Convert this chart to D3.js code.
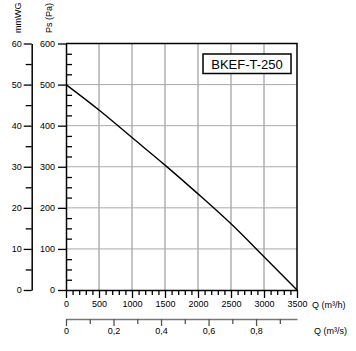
<!DOCTYPE html>
<html lang="en">
<head>
<meta charset="UTF-8">
<title>BKEF-T-250</title>
<script src="https://d3js.org/d3.v7.min.js"></script>
<style>
  body { margin: 0; background: #fff; }
  svg text { font-family: "Liberation Sans", Arial, sans-serif; }
  .tick text { font-size: 9px; fill: #000; }
</style>
</head>
<body>
<div id="chart"></div>
<script>
  // fan curve
  var flowM3h = [0, 500, 1000, 1500, 2000, 2500, 3000, 3500];
  var pressurePa = [500, 438, 371, 304, 234, 161, 81, 0];
  var psTicks = [0, 100, 200, 300, 400, 500, 600];
  var mmTicks = [0, 10, 20, 30, 40, 50, 60];
  var qhTicks = [0, 500, 1000, 1500, 2000, 2500, 3000, 3500];
  var qsTicks = [0, 0.2, 0.4, 0.6, 0.8];
  var qsLabels = ["0", "0,2", "0,4", "0,6", "0,8"];
  var modelName = "BKEF-T-250";

  var width = 356, height = 351;
  var pLeft = 66, pRight = 297, pTop = 43.5, pBottom = 290;

  var svg = d3.select("#chart").append("svg")
    .attr("width", width)
    .attr("height", height);

  var x = d3.scaleLinear().domain([0, 3500]).range([pLeft, pRight]);
  var y = d3.scaleLinear().domain([0, 600]).range([pBottom, pTop]);
  var ymm = d3.scaleLinear().domain([0, 60]).range([pBottom, pTop]);
  var xs = d3.scaleLinear().domain([0, 3500 / 3600]).range([pLeft, pRight]);

  // grid
  var grid = svg.append("g").attr("stroke-width", 1);
  grid.selectAll(".gv").data(qhTicks.slice(1, -1)).join("line")
    .attr("stroke", "#888")
    .attr("x1", d => x(d)).attr("x2", d => x(d))
    .attr("y1", pTop).attr("y2", pBottom);
  grid.selectAll(".gh").data(psTicks.slice(1, -1)).join("line")
    .attr("stroke", "#aaa")
    .attr("x1", pLeft).attr("x2", pRight)
    .attr("y1", d => y(d)).attr("y2", d => y(d));

  // frame top / right
  svg.append("path")
    .attr("d", `M${pLeft},${pTop}H${pRight}V${pBottom}`)
    .attr("fill", "none").attr("stroke", "#000").attr("stroke-width", 1.5);

  function styleAxis(g) {
    g.selectAll(".domain").attr("stroke", "#000").attr("stroke-width", 1.5);
    g.selectAll(".tick line").attr("stroke", "#000").attr("stroke-width", 1.3);
  }

  // Ps axis
  svg.append("g").attr("transform", `translate(${pLeft},0)`)
    .call(d3.axisLeft(y).tickValues(psTicks).tickSize(8).tickPadding(3).tickSizeOuter(0).tickFormat(d3.format("d")))
    .call(styleAxis);
  svg.append("g").attr("transform", `translate(${pLeft},0)`)
    .call(d3.axisRight(y).tickValues(d3.range(25, 600, 25).filter(v => v % 100)).tickSize(6).tickFormat(""))
    .call(g => g.select(".domain").remove())
    .call(styleAxis);

  // mmWG axis
  svg.append("g").attr("transform", "translate(31.7,0)")
    .call(d3.axisLeft(ymm).tickValues(mmTicks).tickSize(8).tickPadding(2).tickSizeOuter(0).tickFormat(d3.format("d")))
    .call(styleAxis);
  svg.append("g").attr("transform", "translate(31.7,0)")
    .call(d3.axisLeft(ymm).tickValues(d3.range(5, 60, 10)).tickSize(6).tickFormat(""))
    .call(g => g.select(".domain").remove())
    .call(styleAxis);

  // Q m3/h axis
  svg.append("g").attr("transform", `translate(0,${pBottom})`)
    .call(d3.axisBottom(x).tickValues(qhTicks).tickSize(8).tickPadding(3).tickSizeOuter(0).tickFormat(d3.format("d")))
    .call(styleAxis);
  svg.append("g").attr("transform", `translate(0,${pBottom})`)
    .call(d3.axisBottom(x).tickValues(d3.range(100, 3500, 100).filter(v => v % 500)).tickSize(5).tickFormat(""))
    .call(g => g.select(".domain").remove())
    .call(styleAxis);

  // Q m3/s axis
  svg.append("g").attr("transform", "translate(0,319)")
    .call(d3.axisBottom(xs).tickValues(qsTicks).tickSize(7).tickPadding(2).tickSizeOuter(0)
      .tickFormat((d, i) => qsLabels[i]))
    .call(styleAxis)
    .call(g => g.select(".domain").attr("stroke", "#777"))
    .call(g => g.selectAll(".tick line").attr("stroke", "#555"));
  svg.append("g").attr("transform", "translate(0,319)")
    .call(d3.axisBottom(xs).tickValues([0.1, 0.3, 0.5, 0.7, 0.9]).tickSize(5).tickFormat(""))
    .call(g => g.select(".domain").remove())
    .call(styleAxis)
    .call(g => g.selectAll(".tick line").attr("stroke", "#555"));

  // axis titles
  svg.append("text").attr("transform", "translate(20.5,33) rotate(-90)")
    .attr("font-size", 9).text("mmWG");
  svg.append("text").attr("transform", "translate(52,33) rotate(-90)")
    .attr("font-size", 9).text("Ps (Pa)");
  svg.append("text").attr("x", 312).attr("y", 307.5)
    .attr("font-size", 9).text("Q (m³/h)");
  svg.append("text").attr("x", 314).attr("y", 333.5)
    .attr("font-size", 9).text("Q (m³/s)");

  // curve
  var pts = flowM3h.map((q, i) => [q, pressurePa[i]]);
  svg.append("path").datum(pts)
    .attr("fill", "none").attr("stroke", "#000").attr("stroke-width", 1.4)
    .attr("d", d3.line().x(d => x(d[0])).y(d => y(d[1])).curve(d3.curveMonotoneX));

  // model label
  svg.append("rect").attr("x", 203).attr("y", 54).attr("width", 88).attr("height", 19.5)
    .attr("fill", "#fff").attr("stroke", "#000").attr("stroke-width", 1.5);
  svg.append("text").attr("x", 247).attr("y", 68.5).attr("text-anchor", "middle")
    .attr("font-size", 13).text(modelName);
</script>
</body>
</html>
